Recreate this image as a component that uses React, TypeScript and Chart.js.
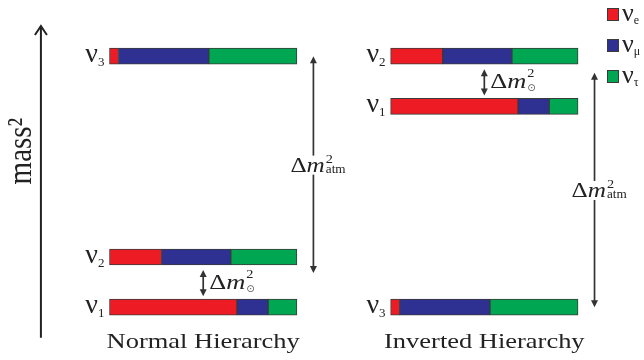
import React, { useEffect, useRef } from 'react';
import { Chart, registerables } from 'chart.js';

Chart.register(...registerables);

// ---- data ----
const MASS_STATES = ['1', '2', '3'];
const NH_LEVELS = [0, 1, 5]; // mass² level of ν1, ν2, ν3 (normal)
const IH_LEVELS = [4, 5, 0]; // mass² level of ν1, ν2, ν3 (inverted)
const FRAC_E = [0.68, 0.278, 0.048];
const FRAC_MU = [0.166, 0.369, 0.482];
const FRAC_TAU = [0.154, 0.353, 0.47];
const FLAVOR_SUBS = ['e', 'μ', 'τ'];
const FLAVOR_COLORS = ['#ED1C24', '#2E3192', '#00A651'];
const HIERARCHY_NAMES = ['Normal Hierarchy', 'Inverted Hierarchy'];
const HIERARCHY_OFFSETS = [0, 1.5];
const SOLAR_PAIRS = [[0, 1], [4, 5]];
const ATM_SPANS = [[0.68, 5], [0, 4.67]];

// ---- layout ----
const LAYOUT = {
  xMin: -0.5843,
  xMax: 2.852,
  yMin: -1.052,
  yMax: 6.119,
  barThickness: 16,
  massAxisX: -0.366,
  massAxisRange: [-0.61, 5.62],
  massLabelX: -0.419,
  massLabelY: 3.11,
  atmDx: 1.088,
};

const LEVELS = [NH_LEVELS, IH_LEVELS];
const FRACS = [FRAC_E, FRAC_MU, FRAC_TAU];

function buildDatasets() {
  return FLAVOR_SUBS.map((sub, f) => {
    const data: any[] = [];
    HIERARCHY_OFFSETS.forEach((off, h) => {
      MASS_STATES.forEach((_, i) => {
        let start = off;
        for (let k = 0; k < f; k++) start += FRACS[k][i];
        data.push({ x: [start, start + FRACS[f][i]], y: LEVELS[h][i] });
      });
    });
    return {
      label: 'ν' + sub,
      data,
      backgroundColor: FLAVOR_COLORS[f],
      borderColor: '#3a3a3a',
      borderWidth: 1,
      borderSkipped: false,
      barThickness: LAYOUT.barThickness,
      grouped: false,
    };
  });
}

const SERIF = '"Liberation Serif", "Times New Roman", serif';
const INK = '#222';

function txt(ctx: CanvasRenderingContext2D, s: string, x: number, y: number, font: string, sx = 1, align: CanvasTextAlign = 'left') {
  ctx.save();
  ctx.font = font;
  ctx.textAlign = align;
  ctx.textBaseline = 'alphabetic';
  ctx.fillStyle = INK;
  ctx.translate(x, y);
  ctx.scale(sx, 1);
  ctx.fillText(s, 0, 0);
  const w = ctx.measureText(s).width * sx;
  ctx.restore();
  return w;
}

function arrowHead(ctx: CanvasRenderingContext2D, x: number, y: number, dir: number, len = 7, half = 3.5) {
  ctx.beginPath();
  ctx.moveTo(x, y);
  ctx.lineTo(x - half, y - dir * len);
  ctx.lineTo(x + half, y - dir * len);
  ctx.closePath();
  ctx.fill();
}

function doubleArrow(ctx: CanvasRenderingContext2D, x: number, yTop: number, yBot: number) {
  ctx.save();
  ctx.strokeStyle = '#333';
  ctx.fillStyle = '#333';
  ctx.lineWidth = 1.7;
  ctx.beginPath();
  ctx.moveTo(x, yTop + 5);
  ctx.lineTo(x, yBot - 5);
  ctx.stroke();
  arrowHead(ctx, x, yTop, -1);
  arrowHead(ctx, x, yBot, 1);
  ctx.restore();
}

function drawDm(ctx: CanvasRenderingContext2D, left: number, base: number, solar: boolean, measureOnly = false) {
  const size = solar ? 22 : 21;
  ctx.save();
  ctx.font = `${size}px ${SERIF}`;
  const wD = ctx.measureText('Δ').width * 1.2;
  ctx.font = `italic ${size}px ${SERIF}`;
  const wM = ctx.measureText('m').width * 1.2;
  ctx.font = `12px ${SERIF}`;
  const wSub = solar ? 9 : ctx.measureText('atm').width * 1.1;
  ctx.restore();
  const total = wD + wM + 1 + wSub;
  if (measureOnly) return total;
  txt(ctx, 'Δ', left, base, `${size}px ${SERIF}`, 1.2);
  txt(ctx, 'm', left + wD, base, `italic ${size}px ${SERIF}`, 1.2);
  const x3 = left + wD + wM + 1;
  txt(ctx, '2', x3, base - (solar ? 11 : 9), `13px ${SERIF}`, 1.1);
  if (solar) {
    ctx.save();
    ctx.globalAlpha = 0.75;
    txt(ctx, '⊙', x3, base + 3, `10px "DejaVu Sans", sans-serif`, 1);
    ctx.restore();
  } else {
    txt(ctx, 'atm', x3, base + 1, `12px ${SERIF}`, 1.1);
  }
  return total;
}

const decorPlugin = {
  id: 'decor',
  afterDatasetsDraw(chart: any) {
    const { ctx } = chart;
    const xs = chart.scales.x;
    const ys = chart.scales.y;
    const px = (v: number) => xs.getPixelForValue(v);
    const py = (v: number) => ys.getPixelForValue(v);
    const half = LAYOUT.barThickness / 2;

    // mass² axis arrow
    ctx.save();
    ctx.strokeStyle = '#222';
    ctx.lineWidth = 2;
    const ax = px(LAYOUT.massAxisX);
    const aTop = py(LAYOUT.massAxisRange[1]);
    const aBot = py(LAYOUT.massAxisRange[0]);
    ctx.beginPath();
    ctx.moveTo(ax, aBot);
    ctx.lineTo(ax, aTop + 1);
    ctx.stroke();
    ctx.beginPath();
    ctx.moveTo(ax - 6, aTop + 10);
    ctx.lineTo(ax, aTop + 1);
    ctx.lineTo(ax + 6, aTop + 10);
    ctx.stroke();
    ctx.restore();

    // mass² label
    ctx.save();
    ctx.translate(px(LAYOUT.massLabelX), py(LAYOUT.massLabelY));
    ctx.rotate(-Math.PI / 2);
    ctx.scale(1, 1.15);
    txt(ctx, 'mass²', 0, 0, `29px ${SERIF}`, 1, 'center');
    ctx.restore();

    // ν labels
    HIERARCHY_OFFSETS.forEach((off, h) => {
      MASS_STATES.forEach((s, i) => {
        const yc = py(LEVELS[h][i]);
        const right = px(off) - 5;
        ctx.save();
        ctx.font = `13px ${SERIF}`;
        const wS = ctx.measureText(s).width;
        ctx.font = `28px ${SERIF}`;
        const wN = ctx.measureText('ν').width;
        ctx.restore();
        txt(ctx, 'ν', right - wS - wN, yc + 6, `28px ${SERIF}`);
        txt(ctx, s, right - wS, yc + 10, `13px ${SERIF}`);
      });
    });

    // solar splittings
    HIERARCHY_OFFSETS.forEach((off, h) => {
      const [lo, hi] = SOLAR_PAIRS[h];
      const x = px(off + 0.5);
      const yTop = py(hi) + half + 5;
      const yBot = py(lo) - half - 3;
      doubleArrow(ctx, x, yTop, yBot);
      drawDm(ctx, x + 6, (yTop + yBot) / 2 + 6, true);
    });

    // atmospheric splittings
    HIERARCHY_OFFSETS.forEach((off, h) => {
      const [lo, hi] = ATM_SPANS[h];
      const x = px(off + LAYOUT.atmDx);
      const yTop = py(hi);
      const yBot = py(lo);
      doubleArrow(ctx, x, yTop, yBot);
      const base = (yTop + yBot) / 2 + 7;
      const w = drawDm(ctx, 0, 0, false, true) as number;
      const left = x - 23;
      ctx.save();
      ctx.fillStyle = '#fff';
      ctx.fillRect(left - 1, base - 16, w + 2, 19);
      ctx.restore();
      drawDm(ctx, left, base, false);
    });

    // titles
    HIERARCHY_OFFSETS.forEach((off, h) => {
      txt(ctx, HIERARCHY_NAMES[h], px(off + 0.5), py(LAYOUT.yMin) - 12, `21px ${SERIF}`, 1.26, 'center');
    });

    // legend
    FLAVOR_SUBS.forEach((sub, f) => {
      const yc = 14.5 + f * 31;
      const lx = chart.width - 37;
      ctx.save();
      ctx.fillStyle = FLAVOR_COLORS[f];
      ctx.fillRect(lx, yc - 6.5, 12, 13);
      ctx.strokeStyle = '#3a3a3a';
      ctx.lineWidth = 1;
      ctx.strokeRect(lx + 0.5, yc - 6, 11, 12);
      ctx.restore();
      const wn = txt(ctx, 'ν', lx + 15, yc + 6, `26px ${SERIF}`);
      txt(ctx, sub, lx + 15 + wn, yc + 9, `12px ${SERIF}`);
    });
  },
};

export default function App() {
  const ref = useRef<HTMLCanvasElement>(null);
  useEffect(() => {
    if (!ref.current) return;
    const chart = new Chart(ref.current, {
      type: 'bar',
      data: { datasets: buildDatasets() as any },
      options: {
        indexAxis: 'y',
        animation: false,
        responsive: false,
        devicePixelRatio: 1,
        layout: { padding: 0 },
        plugins: { legend: { display: false }, tooltip: { enabled: false } },
        scales: {
          x: { type: 'linear', min: LAYOUT.xMin, max: LAYOUT.xMax, display: false, offset: false },
          y: { type: 'linear', min: LAYOUT.yMin, max: LAYOUT.yMax, display: false, offset: false },
        },
      },
      plugins: [decorPlugin],
    });
    return () => chart.destroy();
  }, []);
  return (
    <div style={{ position: 'fixed', left: 0, top: 0, width: 644, height: 360, background: '#fff' }}>
      <canvas ref={ref} width={644} height={360} />
    </div>
  );
}
